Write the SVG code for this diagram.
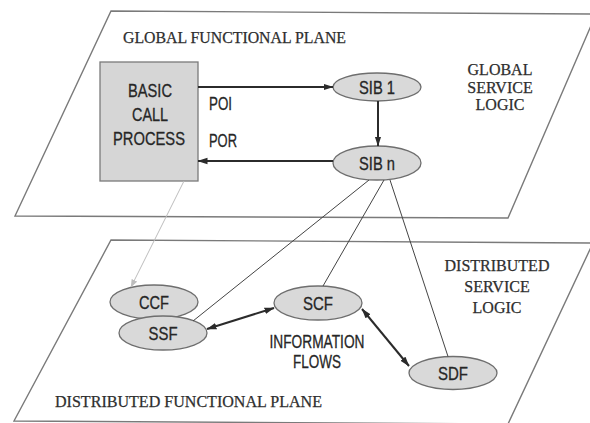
<svg xmlns="http://www.w3.org/2000/svg" width="590" height="423" viewBox="0 0 590 423">
  <defs>
    <marker id="head" markerUnits="userSpaceOnUse" markerWidth="10" markerHeight="8" refX="9.5" refY="4" orient="auto-start-reverse">
      <path d="M0,0.8 L10,4 L0,7.2 z" fill="#2b2b2b"/>
    </marker>
    <marker id="headLight" markerUnits="userSpaceOnUse" markerWidth="8" markerHeight="7" refX="7.5" refY="3.5" orient="auto">
      <path d="M0,0.5 L8,3.5 L0,6.5 z" fill="#bdbdbd"/>
    </marker>
    <style>
      .plane{fill:#fff;stroke:#7a7a7a;stroke-width:1.4}
      .serif{font-family:"Liberation Serif","Times New Roman",serif;font-size:16px;fill:#2e2e2e;stroke:#2e2e2e;stroke-width:0.25}
      .mid{text-anchor:middle}
      .sans{font-family:"Liberation Sans Narrow","Arial Narrow","Liberation Sans",Arial,sans-serif;font-size:18px;fill:#262626;stroke:#262626;stroke-width:0.3}
      .node{fill:#d9d9d9;stroke:#6e6e6e;stroke-width:1.3}
      .box{fill:#d6d6d6;stroke:#7a7a7a;stroke-width:1.3}
      .flow{stroke:#2b2b2b;stroke-width:2;fill:none}
      .tie{stroke:#444;stroke-width:1;fill:none}
      .light{stroke:#bdbdbd;stroke-width:1;fill:none}
    </style>
  </defs>

  <rect width="590" height="423" fill="#fff"/>

  <!-- planes -->
  <g id="global-plane">
    <polygon class="plane" points="111,11 596,14 508,218 15,216"/>
    <text class="serif" x="123" y="43" textLength="223" lengthAdjust="spacingAndGlyphs">GLOBAL FUNCTIONAL PLANE</text>
    <text class="serif mid" x="500" y="75">GLOBAL</text>
    <text class="serif mid" x="500" y="93">SERVICE</text>
    <text class="serif mid" x="500" y="110">LOGIC</text>
  </g>
  <g id="distributed-plane">
    <polygon class="plane" points="111,240 593,243 508,424 14,421"/>
    <text class="serif" x="55" y="407" textLength="267" lengthAdjust="spacingAndGlyphs">DISTRIBUTED FUNCTIONAL PLANE</text>
    <text class="serif mid" x="497" y="271">DISTRIBUTED</text>
    <text class="serif mid" x="497" y="292">SERVICE</text>
    <text class="serif mid" x="497" y="313">LOGIC</text>
  </g>

  <!-- nodes -->
  <g id="bcp">
    <rect class="box" x="100" y="62" width="98" height="119"/>
    <text class="sans mid" x="150" y="97" textLength="44" lengthAdjust="spacingAndGlyphs">BASIC</text>
    <text class="sans mid" x="150" y="121" textLength="36" lengthAdjust="spacingAndGlyphs">CALL</text>
    <text class="sans mid" x="149" y="145" textLength="72" lengthAdjust="spacingAndGlyphs">PROCESS</text>
  </g>
  <g id="sib1">
    <ellipse class="node" cx="377" cy="87" rx="44" ry="14"/>
    <text class="sans mid" x="377" y="93.5" textLength="36" lengthAdjust="spacingAndGlyphs">SIB 1</text>
  </g>
  <g id="sibn">
    <ellipse class="node" cx="377" cy="163" rx="44" ry="17"/>
    <text class="sans mid" x="377" y="169.5" textLength="36" lengthAdjust="spacingAndGlyphs">SIB n</text>
  </g>
  <g id="ccf">
    <ellipse class="node" cx="154" cy="302" rx="44" ry="17"/>
    <text class="sans mid" x="154" y="308.5" textLength="30" lengthAdjust="spacingAndGlyphs">CCF</text>
  </g>
  <g id="ssf">
    <ellipse class="node" cx="163" cy="333" rx="44" ry="17"/>
    <text class="sans mid" x="163" y="339.5" textLength="29" lengthAdjust="spacingAndGlyphs">SSF</text>
  </g>
  <g id="scf">
    <ellipse class="node" cx="318" cy="303" rx="44" ry="17"/>
    <text class="sans mid" x="318" y="309.5" textLength="30" lengthAdjust="spacingAndGlyphs">SCF</text>
  </g>
  <g id="sdf">
    <ellipse class="node" cx="453" cy="373" rx="44" ry="16.5"/>
    <text class="sans mid" x="453" y="379.5" textLength="30" lengthAdjust="spacingAndGlyphs">SDF</text>
  </g>

  <!-- connectors -->
  <g id="connectors">
    <line class="flow" x1="198" y1="87" x2="333" y2="87" marker-end="url(#head)"/>
    <line class="flow" x1="378" y1="101" x2="378" y2="146" marker-end="url(#head)"/>
    <line class="flow" x1="333" y1="161" x2="198" y2="161" marker-end="url(#head)"/>
    <line class="light" x1="184" y1="181" x2="131" y2="287" marker-end="url(#headLight)"/>
    <line class="tie" x1="369" y1="180" x2="193" y2="321"/>
    <line class="tie" x1="384" y1="180" x2="323" y2="286"/>
    <line class="tie" x1="390" y1="180" x2="448" y2="356.5"/>
    <line class="flow" x1="207" y1="329" x2="274" y2="308" marker-start="url(#head)" marker-end="url(#head)"/>
    <line class="flow" x1="362" y1="309" x2="409" y2="366" marker-start="url(#head)" marker-end="url(#head)"/>
  </g>

  <!-- connector labels -->
  <g id="labels">
    <text class="sans" x="209" y="110" font-size="16" textLength="23" lengthAdjust="spacingAndGlyphs">POI</text>
    <text class="sans" x="209" y="147" font-size="16" textLength="28" lengthAdjust="spacingAndGlyphs">POR</text>
    <text class="sans mid" x="317" y="348" font-size="16.5" textLength="95" lengthAdjust="spacingAndGlyphs">INFORMATION</text>
    <text class="sans mid" x="317" y="368" font-size="16.5" textLength="48" lengthAdjust="spacingAndGlyphs">FLOWS</text>
  </g>
</svg>
